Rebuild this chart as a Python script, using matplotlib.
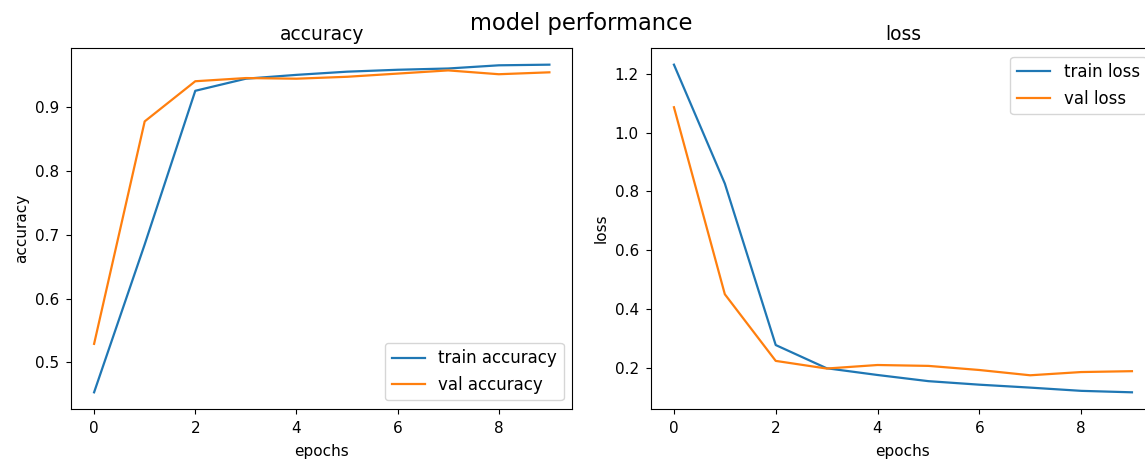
import matplotlib
matplotlib.use("Agg")
import matplotlib.pyplot as plt

# training history
epochs = list(range(10))
train_acc = [0.453, 0.685, 0.926, 0.945, 0.951, 0.956, 0.959, 0.961, 0.966, 0.967]
val_acc = [0.529, 0.878, 0.941, 0.946, 0.945, 0.948, 0.953, 0.958, 0.952, 0.955]
train_loss = [1.232, 0.827, 0.277, 0.198, 0.175, 0.154, 0.142, 0.132, 0.121, 0.116]
val_loss = [1.087, 0.450, 0.223, 0.197, 0.209, 0.206, 0.192, 0.174, 0.185, 0.188]

tick_fs = 11
label_fs = 11
legend_fs = 12
title_fs = 13.4

fig = plt.figure(figsize=(11.45, 4.59), dpi=100)
ax1 = fig.add_axes([0.0623, 0.1096, 0.4374, 0.7852])
ax2 = fig.add_axes([0.5686, 0.1096, 0.4400, 0.7852])

fig.suptitle("model performance", x=581 / 1145, y=1 - 30 / 459, va="baseline", fontsize=16.3)

ax1.plot(epochs, train_acc, label="train accuracy", lw=1.6)
ax1.plot(epochs, val_acc, label="val accuracy", lw=1.6)
ax1.set_title("accuracy", fontsize=title_fs)
ax1.set_xlabel("epochs", fontsize=label_fs, labelpad=6)
ax1.set_ylabel("accuracy", fontsize=label_fs)
ax1.legend(loc="lower right", fontsize=legend_fs)

ax2.plot(epochs, train_loss, label="train loss", lw=1.6)
ax2.plot(epochs, val_loss, label="val loss", lw=1.6)
ax2.set_title("loss", fontsize=title_fs)
ax2.set_xlabel("epochs", fontsize=label_fs, labelpad=6)
ax2.set_ylabel("loss", fontsize=label_fs)
ax2.legend(loc="upper right", fontsize=legend_fs)

for ax in (ax1, ax2):
    ax.tick_params(labelsize=tick_fs, length=3.8, pad=5)

fig.savefig("out.png", dpi=100)
